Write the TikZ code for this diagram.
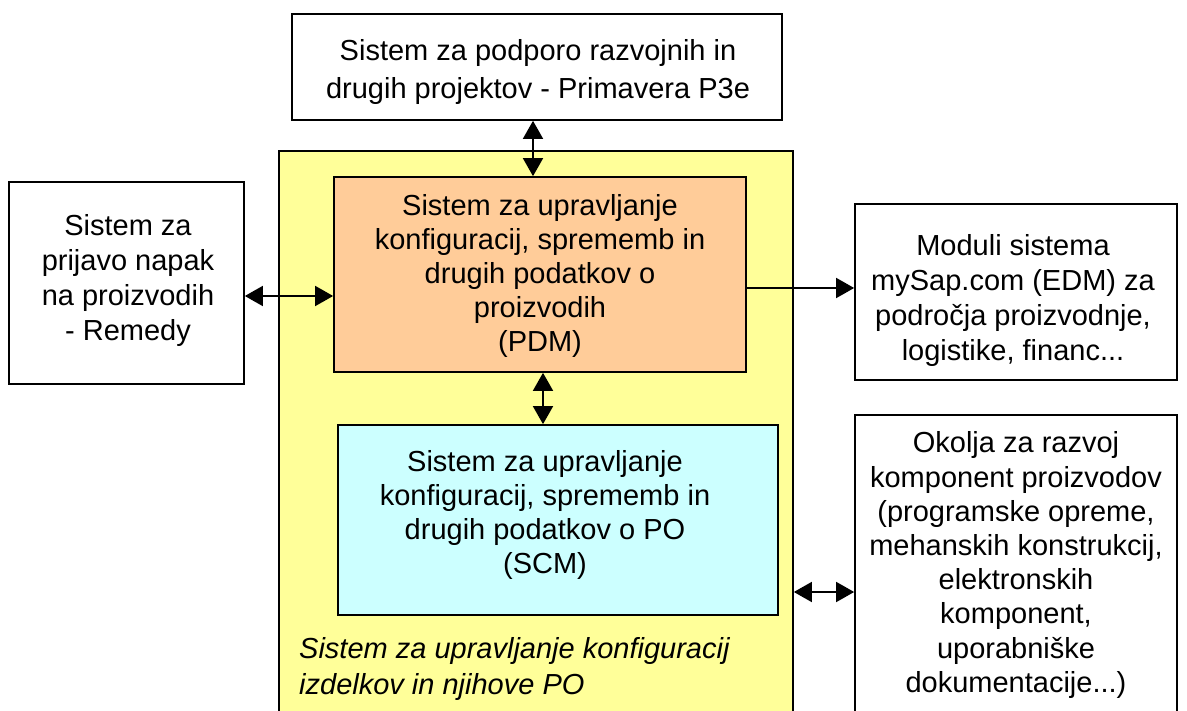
\documentclass[tikz,border=0pt]{standalone}
\usepackage{fontspec}
\setmainfont{Liberation Sans}
\usetikzlibrary{arrows.meta}
\definecolor{pdmfill}{HTML}{FFCC99}
\definecolor{scmfill}{HTML}{CCFFFF}
\definecolor{outerfill}{HTML}{FFFF99}
\tikzset{
  box/.style={draw=black, line width=1.7pt, rectangle, inner sep=0pt},
  txt/.style={align=center, font=\fontsize{29}{34}\selectfont, inner sep=0pt},
  tip/.style={Triangle[length=18pt,width=20pt]},
  link/.style={line width=1.7pt, {Triangle[length=18pt,width=20pt]}-{Triangle[length=18pt,width=20pt]}},
  onelink/.style={line width=1.7pt, -{Triangle[length=18pt,width=20pt]}},
}
\begin{document}
\begin{tikzpicture}[x=1pt,y=-1pt]
\useasboundingbox (0,0) rectangle (1187,711);
\clip (0,0) rectangle (1187,711);
\fill[white] (0,0) rectangle (1187,711);

% outer configuration management system
\node[box, fill=outerfill, minimum width=514pt, minimum height=589pt] (outer) at (536,445.5) {};
\node[txt, align=left, anchor=west, font=\fontsize{29}{36}\selectfont\itshape] (outerlbl) at (299,669)
  {Sistem za upravljanje konfiguracij\\izdelkov in njihove PO};

% top: project support
\node[box, fill=white, minimum width=490pt, minimum height=106pt] (top) at (537,67) {};
\node[txt, font=\fontsize{29}{38}\selectfont] (toptxt) at (538,72)
  {Sistem za podporo razvojnih in\\drugih projektov - Primavera P3e};

% PDM
\node[box, fill=pdmfill, minimum width=412pt, minimum height=195pt] (pdm) at (540,274.5) {};
\node[txt] (pdmtxt) at (540,276)
  {Sistem za upravljanje\\konfiguracij, sprememb in\\drugih podatkov o\\proizvodih\\(PDM)};

% SCM
\node[box, fill=scmfill, minimum width=440pt, minimum height=190pt] (scm) at (558,520) {};
\node[txt] (scmtxt) at (545,515)
  {Sistem za upravljanje\\konfiguracij, sprememb in\\drugih podatkov o PO\\(SCM)};

% left: defect reporting
\node[box, fill=white, minimum width=235pt, minimum height=202pt] (left) at (126.5,283) {};
\node[txt, font=\fontsize{29}{35}\selectfont] (lefttxt) at (128,281)
  {Sistem za\\prijavo napak\\na proizvodih\\- Remedy};

% right: mySap modules
\node[box, fill=white, minimum width=322pt, minimum height=176pt] (erp) at (1016,292) {};
\node[txt, font=\fontsize{29}{35}\selectfont] (erptxt) at (1013,301)
  {Moduli sistema\\mySap.com (EDM) za\\področja proizvodnje,\\logistike, financ...};

% right: development environments
\node[box, fill=white, minimum width=322pt, minimum height=325pt] (dev) at (1016,577.5) {};
\node[txt, font=\fontsize{29}{34.2}\selectfont] (devtxt) at (1016,565)
  {Okolja za razvoj\\komponent proizvodov\\(programske opreme,\\mehanskih konstrukcij,\\elektronskih\\komponent,\\uporabniške\\dokumentacije...)};

% connector positions
\coordinate (ca) at (533,0);
\coordinate (cb) at (0,296);
\coordinate (cc) at (0,288);
\coordinate (cd) at (543,0);
\coordinate (ce) at (0,592);

\draw[link] (top.south -| ca) -- (pdm.north -| ca);
\draw[link] (left.east |- cb) -- (pdm.west |- cb);
\draw[onelink] (pdm.east |- cc) -- (erp.west |- cc);
\draw[link] (pdm.south -| cd) -- (scm.north -| cd);
\draw[link] (outer.east |- ce) -- (dev.west |- ce);
\end{tikzpicture}
\end{document}
